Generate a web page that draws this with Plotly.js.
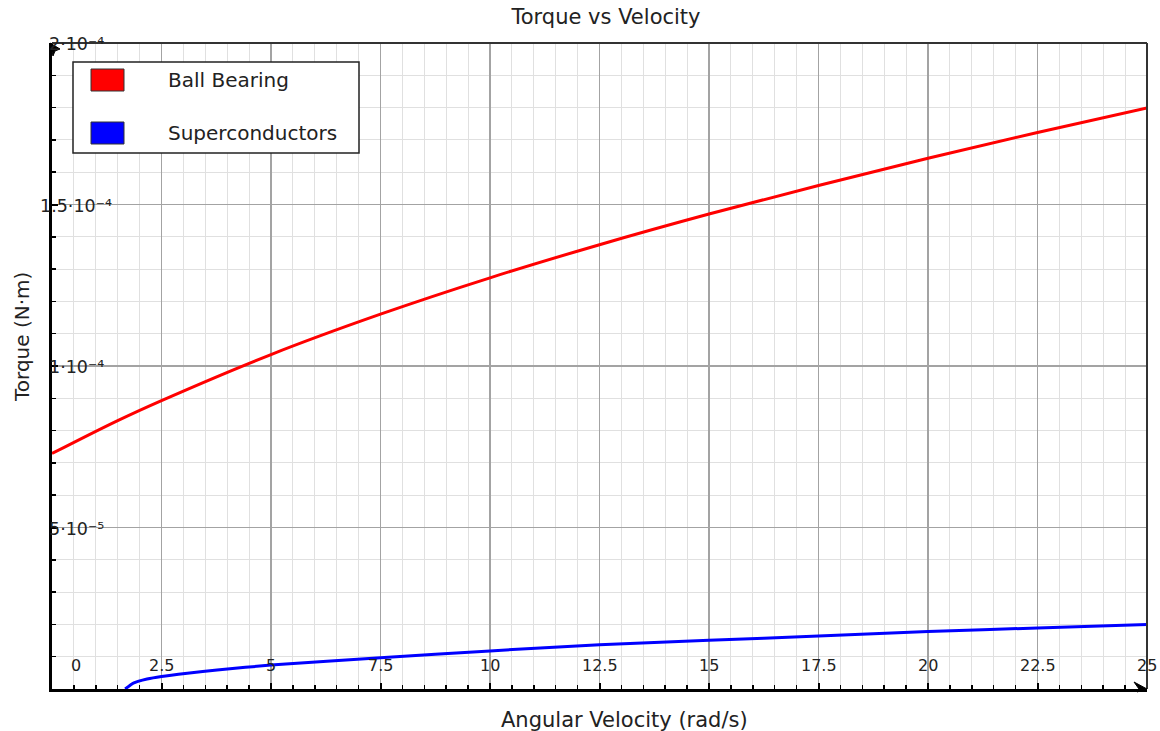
<!DOCTYPE html>
<html>
<head>
<meta charset="utf-8">
<script src="https://cdn.plot.ly/plotly-3.0.1.min.js"></script>
<style>html,body{margin:0;padding:0;background:#fff}#chart{width:1160px;height:731px}</style>
</head>
<body>
<div id="chart"></div>
<script>
// ---- data ----
const velocityBall = [0, 1.5, 2.5, 5, 7.5, 10, 12.5, 15, 17.5, 20, 22.5, 25];
const torqueBall   = [7.29e-5, 8.31e-5, 8.93e-5, 1.0355e-4, 1.1605e-4, 1.273e-4, 1.3755e-4, 1.4705e-4, 1.559e-4, 1.643e-4, 1.723e-4, 1.799e-4];
const velocitySC   = [1.67, 1.87, 2.17, 2.5, 3.09, 3.77, 5, 7.5, 10, 12.5, 15, 17.5, 20, 22.5, 25];
const torqueSC     = [0, 1.9e-6, 3.1e-6, 3.9e-6, 4.9e-6, 5.9e-6, 7.4e-6, 9.7e-6, 1.18e-5, 1.37e-5, 1.51e-5, 1.64e-5, 1.78e-5, 1.89e-5, 2.0e-5];
const seriesNames  = ['Ball Bearing', 'Superconductors'];
const xTickVals = [0, 2.5, 5, 7.5, 10, 12.5, 15, 17.5, 20, 22.5, 25];
const xTickText = ['0', '2.5', '5', '7.5', '10', '12.5', '15', '17.5', '20', '22.5', '25'];
const yTickVals = [5e-5, 1e-4, 1.5e-4, 2e-4];
const yTickText = ['5·10⁻⁵', '1·10⁻⁴', '1.5·10⁻⁴', '2·10⁻⁴'];
const chartTitle = 'Torque vs Velocity';
const xTitle = 'Angular Velocity (rad/s)';
const yTitle = 'Torque (N·m)';

// ---- layout geometry ----
const FW = 1160, FH = 731;
const M = {l: 52, r: 13, t: 43, b: 42};
const PW = FW - M.l - M.r, PH = FH - M.t - M.b;
const px = x => (x - M.l) / PW;
const py = y => (FH - M.b - y) / PH;
const FONT = 'DejaVu Sans, Lucida Grande, sans-serif';
const colors = ['#ff0000', '#0000ff'];

const traces = [
  {x: velocityBall, y: torqueBall, name: seriesNames[0], type: 'scatter', mode: 'lines',
   line: {color: colors[0], width: 3, shape: 'spline', smoothing: 1}, showlegend: false},
  {x: velocitySC, y: torqueSC, name: seriesNames[1], type: 'scatter', mode: 'lines',
   line: {color: colors[1], width: 3, shape: 'spline', smoothing: 0.6}, showlegend: false}
];

const annotations = [];
xTickVals.forEach((v, i) => {
  annotations.push({x: v, xref: 'x', y: py(665), yref: 'paper', text: xTickText[i],
    showarrow: false, xanchor: 'center', yanchor: 'middle', xshift: v === 0 ? 24 : 0,
    font: {family: FONT, size: 16, color: '#222'}});
});
yTickVals.forEach((v, i) => {
  annotations.push({x: px(76), xref: 'paper', y: v, yref: 'y', text: yTickText[i],
    showarrow: false, xanchor: 'center', yanchor: 'middle', yshift: -1,
    font: {family: FONT, size: 17.5, color: '#222'}});
});
// axis titles
annotations.push({x: px(624), xref: 'paper', y: py(720), yref: 'paper', text: xTitle, showarrow: false,
  xanchor: 'center', yanchor: 'middle', font: {family: FONT, size: 21, color: '#222'}});
annotations.push({x: px(22), xref: 'paper', y: py(337), yref: 'paper', text: yTitle, showarrow: false,
  textangle: -90, xanchor: 'center', yanchor: 'middle', font: {family: FONT, size: 20, color: '#222'}});
// legend texts
const legendRowsY = [80, 133];
seriesNames.forEach((n, i) => {
  annotations.push({x: px(166), xref: 'paper', y: py(legendRowsY[i]), yref: 'paper', text: n, showarrow: false,
    xanchor: 'left', yanchor: 'middle', font: {family: FONT, size: 20, color: '#222'}});
});

// path helper in pixel coords -> paper coords
const pathPx = pts => pts.map((p, i) => (i ? 'L' : 'M') + px(p[0]).toFixed(5) + ',' + py(p[1]).toFixed(5)).join(' ') + ' Z';

const shapes = [
  {type: 'line', xref: 'paper', yref: 'paper', x0: 0, x1: 1, y0: 1, y1: 1, line: {color: '#333', width: 2}, layer: 'above'},
  {type: 'line', xref: 'paper', yref: 'paper', x0: 1, x1: 1, y0: 0, y1: 1, line: {color: '#333', width: 2}, layer: 'above'},
  {type: 'rect', xref: 'paper', yref: 'paper', x0: px(73), x1: px(359), y0: py(153), y1: py(62),
   line: {color: '#222', width: 1.5}, fillcolor: '#fff', layer: 'above'},
  // axis arrowheads
  {type: 'path', xref: 'paper', yref: 'paper', path: pathPx([[50, 43], [60, 49], [55, 51], [53, 56]]),
   fillcolor: '#000', line: {color: '#000', width: 1}, layer: 'above'},
  {type: 'path', xref: 'paper', yref: 'paper', path: pathPx([[1147, 689], [1134, 682], [1139, 689], [1137, 692]]),
   fillcolor: '#000', line: {color: '#000', width: 1}, layer: 'above'}
];
legendRowsY.forEach((yy, i) => {
  shapes.push({type: 'rect', xref: 'paper', yref: 'paper', x0: px(91), x1: px(124), y0: py(yy + 11), y1: py(yy - 11),
    line: {color: '#333', width: 1}, fillcolor: colors[i], layer: 'above'});
});

const layout = {
  width: FW, height: FH,
  margin: M,
  paper_bgcolor: '#fff', plot_bgcolor: '#fff',
  font: {family: FONT, color: '#222'},
  title: {text: chartTitle, x: 606 / FW, xref: 'container', xanchor: 'center',
          y: 1 - 17 / FH, yref: 'container', yanchor: 'middle', font: {family: FONT, size: 21, color: '#222'}},
  showlegend: false,
  xaxis: {range: [0, 25], dtick: 2.5, tick0: 0, showticklabels: false, zeroline: false,
    showline: true, linecolor: '#000', linewidth: 3, ticks: 'inside', ticklen: 6, tickwidth: 2, tickcolor: '#000',
    showgrid: true, gridcolor: '#a3a3a3', gridwidth: 1.3,
    minor: {dtick: 0.5, tick0: 0, ticks: 'inside', ticklen: 4, tickwidth: 1.5, tickcolor: '#000', showgrid: true, gridcolor: '#e0e0e0', gridwidth: 1},
    fixedrange: true},
  yaxis: {range: [0, 2e-4], dtick: 5e-5, tick0: 0, showticklabels: false, zeroline: false,
    showline: true, linecolor: '#000', linewidth: 3, ticks: 'inside', ticklen: 6, tickwidth: 2, tickcolor: '#000',
    showgrid: true, gridcolor: '#a3a3a3', gridwidth: 1.3,
    minor: {dtick: 1e-5, tick0: 0, ticks: 'inside', ticklen: 4, tickwidth: 1.5, tickcolor: '#000', showgrid: true, gridcolor: '#e0e0e0', gridwidth: 1},
    fixedrange: true},
  annotations: annotations,
  shapes: shapes
};

Plotly.newPlot('chart', traces, layout, {staticPlot: true, displayModeBar: false});
</script>
</body>
</html>
